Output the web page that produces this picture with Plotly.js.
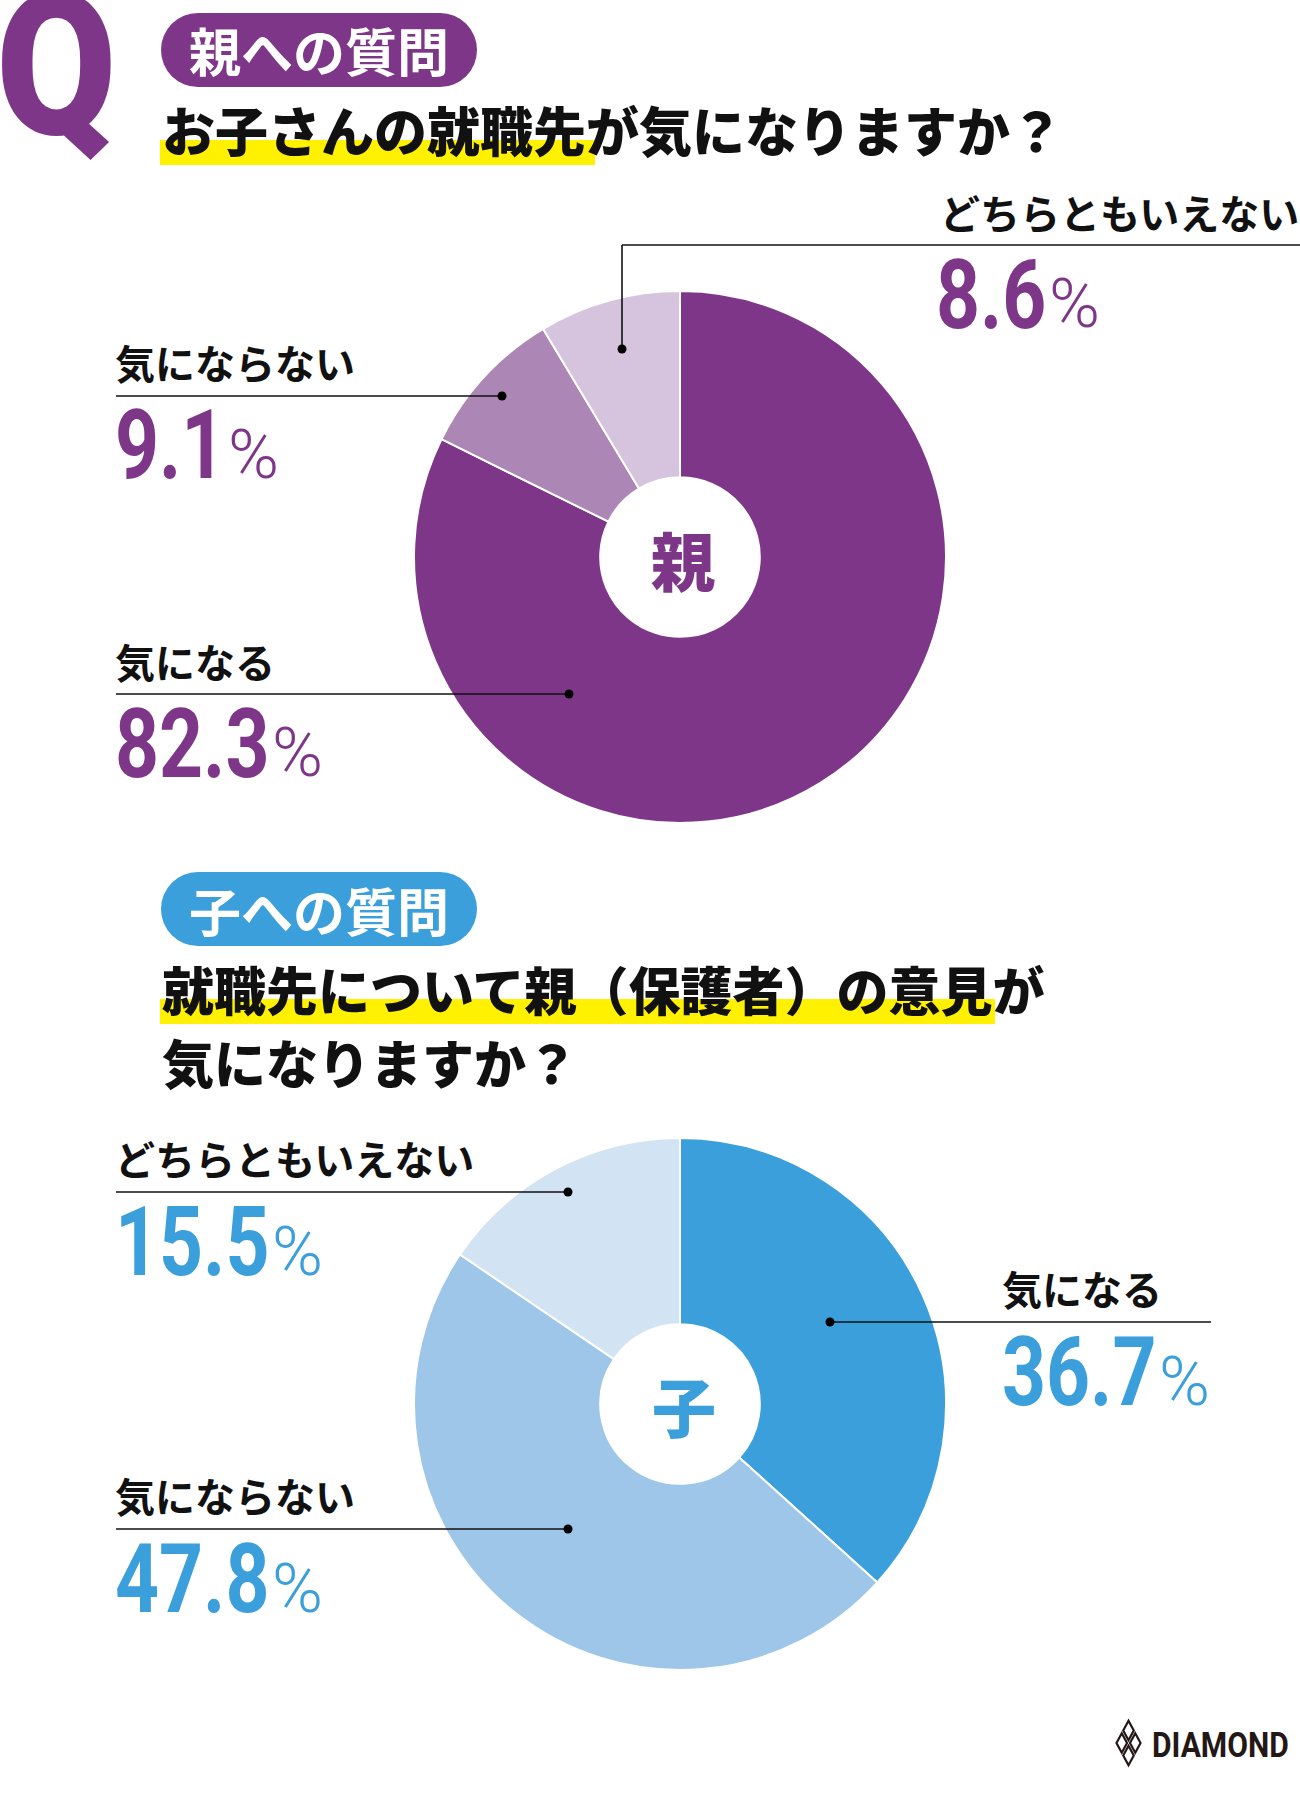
<!DOCTYPE html>
<html><head><meta charset="utf-8">
<script src="https://cdn.plot.ly/plotly-3.0.1.min.js"></script>
<style>html,body{margin:0;padding:0;background:#fff}</style>
</head><body><div id="chart" style="width:1300px;height:1802px"></div>
<script>
// ---- data ----
const parentTag = '親への質問';
const parentQuestion = 'お子さんの就職先が気になりますか？';
const parentLabels = ['気になる', '気にならない', 'どちらともいえない'];
const parentValues = [82.3, 9.1, 8.6];
const parentCenter = '親';

const childTag = '子への質問';
const childQuestion1 = '就職先について親（保護者）の意見が';
const childQuestion2 = '気になりますか？';
const childLabels = ['気になる', '気にならない', 'どちらともいえない'];
const childValues = [36.7, 47.8, 15.5];
const childCenter = '子';

// ---- styles ----
const W = 1300, H = 1802;
const PURPLE = '#7E3788', BLUE = '#3A9FDA', YELLOW = '#FFF100';
const parentColors = ['#7E3788', '#AC87B5', '#D6C3DE'];
const childColors = ['#3A9FDA', '#9DC6E9', '#D2E3F4'];
const JP = '"Noto Sans CJK JP", "Noto Sans", sans-serif';
const NUM = 'Roboto, "Liberation Sans", sans-serif';

const px = x => x / W;
const py = y => 1 - y / H;

function pieTrace(values, labels, colors, cx, cy, r) {
  return {
    type: 'pie', values: values, labels: labels, sort: false,
    direction: 'clockwise', rotation: 0, hole: 0.30,
    marker: {colors: colors, line: {color: '#ffffff', width: 2}},
    textinfo: 'none', hoverinfo: 'skip', showlegend: false,
    domain: {x: [px(cx - r), px(cx + r)], y: [py(cy + r), py(cy - r)]}
  };
}

const shapes = [];
const annotations = [];
const narrow = {};   // annotation index -> horizontal scale
const pctPairs = []; // [number annotation index, % annotation index]

function rect(x0, y0, x1, y1, color) {
  shapes.push({type: 'rect', xref: 'paper', yref: 'paper', x0: px(x0), x1: px(x1), y0: py(y1), y1: py(y0),
    fillcolor: color, line: {width: 0}, layer: 'below'});
}
function circle(cx, cy, r, color, layer) {
  shapes.push({type: 'circle', xref: 'paper', yref: 'paper', x0: px(cx - r), x1: px(cx + r), y0: py(cy + r), y1: py(cy - r),
    fillcolor: color, line: {width: 0}, layer: layer || 'below'});
}
function pill(x0, y0, x1, y1, color) {
  const r = (y1 - y0) / 2;
  rect(x0 + r, y0, x1 - r, y1, color);
  circle(x0 + r, y0 + r, r, color);
  circle(x1 - r, y0 + r, r, color);
}
function line(x0, y0, x1, y1) {
  shapes.push({type: 'line', xref: 'paper', yref: 'paper', x0: px(x0), x1: px(x1), y0: py(y0), y1: py(y1),
    line: {color: '#111111', width: 1.6}, layer: 'above'});
}
function dot(x, y) { circle(x, y, 4.5, '#000000', 'above'); }

function text(t, x, y, size, color, family, anchor, weight, scale) {
  if (scale) narrow[annotations.length] = scale;
  annotations.push({text: t, xref: 'paper', yref: 'paper', x: px(x), y: py(y),
    xanchor: anchor || 'left', yanchor: 'middle', showarrow: false,
    font: {family: family || JP, size: size, color: color || '#111111', weight: weight || 700}});
}
function pct(v, x, baseline, color) {
  const ni = annotations.length;
  text(v.toFixed(1), x, baseline - 33, 96, color, NUM, 'left', 700, 0.8);
  const pi = annotations.length;
  text('%', x + 110, baseline - 24, 69, color, NUM, 'left', 300);
  pctPairs.push([ni, pi]);
}

// ---- header Q ----
text('Q', -6, 66, 198, PURPLE, NUM, 'left', 900, 0.88);

// ---- parent block ----
pill(161, 13, 477, 87, PURPLE);
text(parentTag, 187, 50, 52, '#ffffff', JP, 'left', 700);
rect(160, 140, 595, 165, YELLOW);
text(parentQuestion, 160, 129, 53, '#111111', JP, 'left', 900);

// leader lines parent
line(622, 245, 1300, 245); line(622, 245, 622, 349); dot(622, 349);
text(parentLabels[2], 938, 212, 40);
pct(parentValues[2], 934, 328, PURPLE);

line(116, 396, 502, 396); dot(502, 396);
text(parentLabels[1], 113, 362, 40);
pct(parentValues[1], 113, 478, PURPLE);

line(116, 694, 569, 694); dot(569, 694);
text(parentLabels[0], 113, 661, 40);
pct(parentValues[0], 113, 777, PURPLE);

text(parentCenter, 683, 558, 64, PURPLE, JP, 'center', 900);

// ---- child block ----
pill(161, 872, 477, 946, BLUE);
text(childTag, 187, 910, 52, '#ffffff', JP, 'left', 700);
rect(160, 999, 995, 1024, YELLOW);
text(childQuestion1, 160, 988, 52, '#111111', JP, 'left', 900);
text(childQuestion2, 160, 1061, 52, '#111111', JP, 'left', 900);

line(116, 1192, 568, 1192); dot(568, 1192);
text(childLabels[2], 113, 1158, 40);
pct(childValues[2], 113, 1275, BLUE);

line(830, 1322, 1211, 1322); dot(830, 1322);
text(childLabels[0], 1000, 1288, 40);
pct(childValues[0], 1000, 1405, BLUE);

line(116, 1529, 568, 1529); dot(568, 1529);
text(childLabels[1], 113, 1495, 40);
pct(childValues[1], 113, 1612, BLUE);

text(childCenter, 684, 1404, 64, BLUE, JP, 'center', 900);

// ---- logo ----
(function () {
  const T = [1128.5, 1718], R = [1142, 1743], B = [1128.5, 1768], L = [1115, 1743];
  const mid = (a, b) => [(a[0] + b[0]) / 2, (a[1] + b[1]) / 2];
  const C = [1128.5, 1743];
  const quads = [
    [T, mid(T, R), C, mid(T, L)],
    [mid(T, R), R, mid(R, B), C],
    [C, mid(R, B), B, mid(B, L)],
    [mid(T, L), C, mid(B, L), L]
  ];
  quads.forEach(q => {
    const cx = (q[0][0] + q[2][0]) / 2, cy = (q[0][1] + q[2][1]) / 2;
    const s = 0.78;
    const pts = q.map(p => [cx + (p[0] - cx) * s, cy + (p[1] - cy) * s]);
    const d = 'M' + pts.map(p => px(p[0]) + ',' + py(p[1])).join(' L') + ' Z';
    shapes.push({type: 'path', xref: 'paper', yref: 'paper', path: d,
      line: {color: '#231815', width: 2.2}, fillcolor: 'rgba(0,0,0,0)', layer: 'above'});
  });
})();
text('DIAMOND', 1150, 1745, 35, '#231815', NUM, 'left', 700, 0.86);

const data = [
  pieTrace(parentValues, parentLabels, parentColors, 680, 557, 266),
  pieTrace(childValues, childLabels, childColors, 680, 1404, 266)
];

const layout = {
  width: W, height: H,
  margin: {l: 0, r: 0, t: 0, b: 0},
  paper_bgcolor: '#ffffff', plot_bgcolor: '#ffffff',
  showlegend: false,
  shapes: shapes, annotations: annotations
};

function applyNarrow(gd) {
  Object.keys(narrow).forEach(function (i) {
    const t = gd.querySelector('.annotation[data-index="' + i + '"] text.annotation-text');
    if (!t) return;
    t.style.transformBox = 'fill-box';
    t.style.transformOrigin = '0 50%';
    t.style.transform = 'scaleX(' + narrow[i] + ')';
  });
}

Plotly.newPlot('chart', data, layout, {displayModeBar: false, staticPlot: true}).then(function (gd) {
  applyNarrow(gd);
  const base = gd.getBoundingClientRect();
  const upd = {};
  pctPairs.forEach(function (p) {
    const t = gd.querySelector('.annotation[data-index="' + p[0] + '"] text.annotation-text');
    if (!t) return;
    const r = t.getBoundingClientRect();
    upd['annotations[' + p[1] + '].x'] = (r.right - base.left + 1) / W;
  });
  return Plotly.relayout(gd, upd).then(function () { applyNarrow(gd); });
});
</script>
</body></html>
